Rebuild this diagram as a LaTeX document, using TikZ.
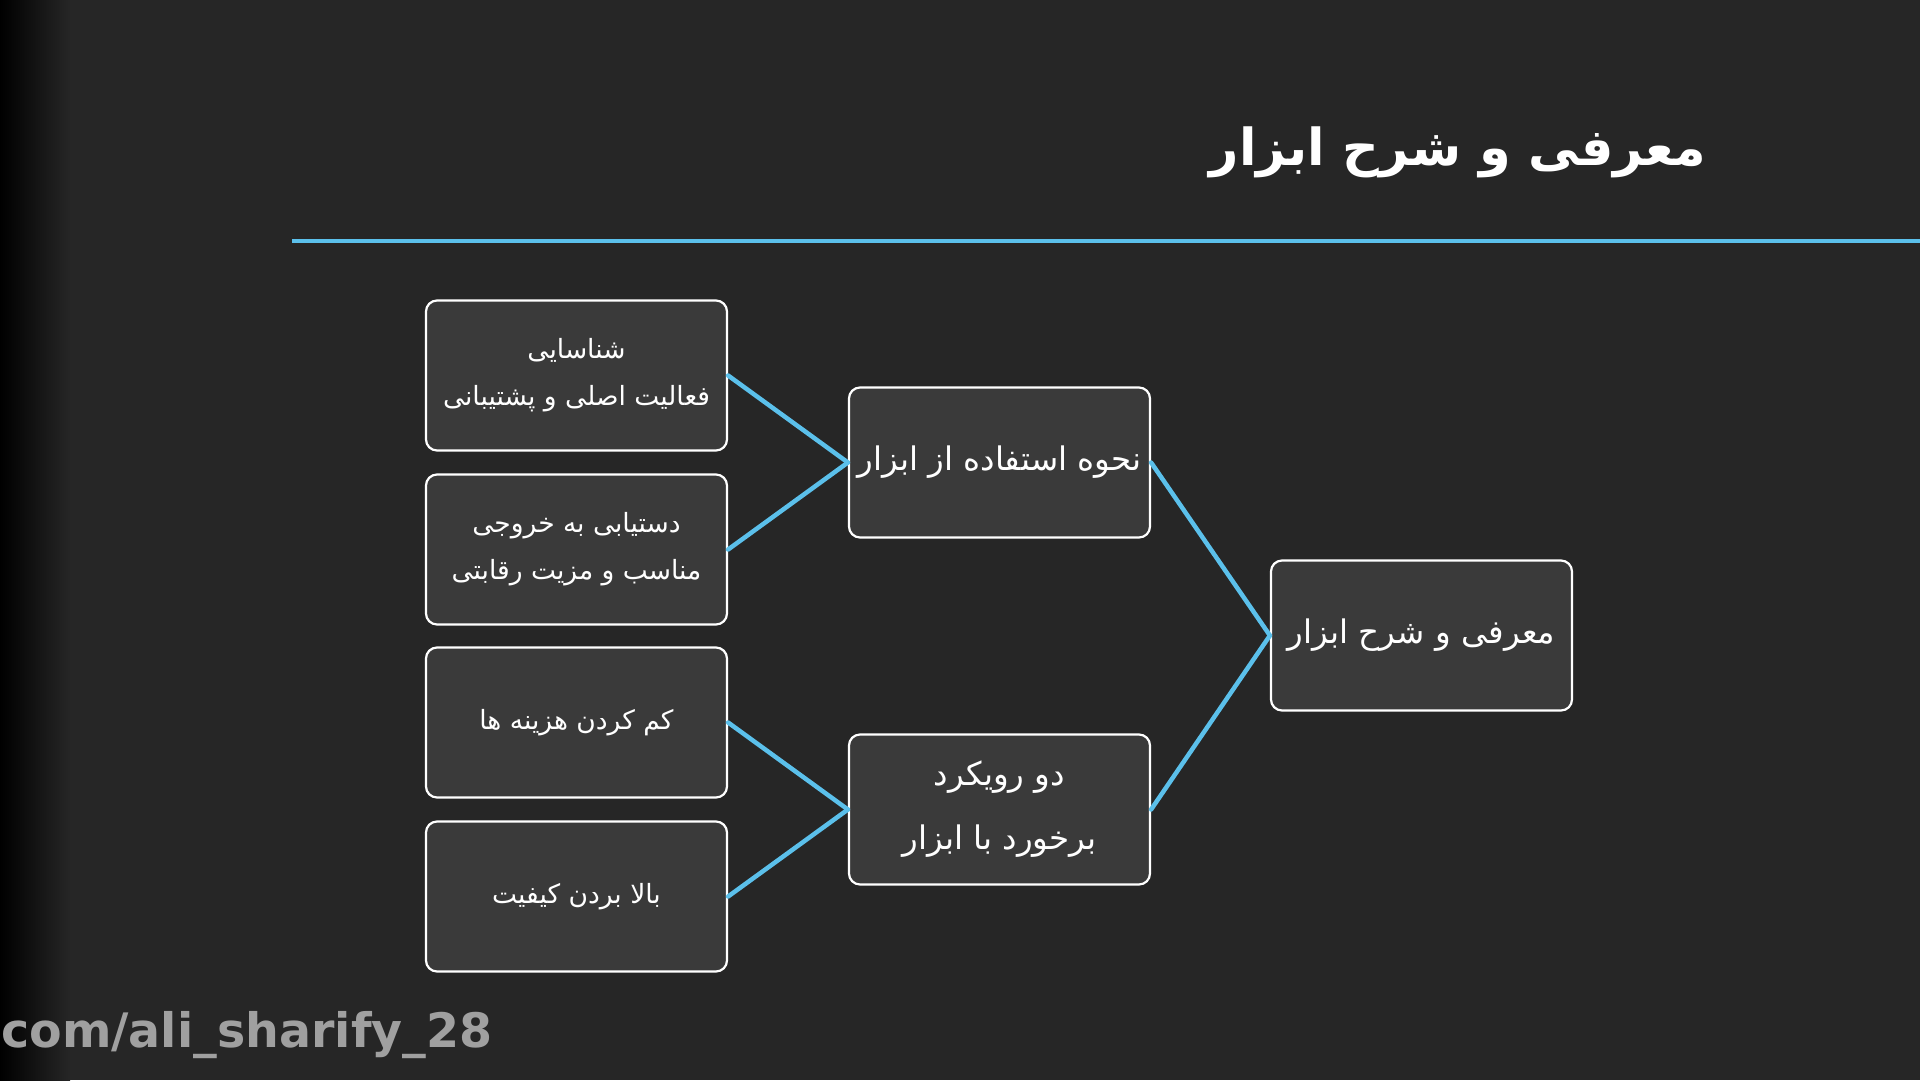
\documentclass[tikz,border=0pt]{standalone}
\usepackage{fontspec}
\TeXXeTstate=1
\newfontfamily\arabicfont[Script=Arabic]{DejaVu Sans}
\newfontfamily\wmfont{DejaVu Sans}
\definecolor{bgc}{HTML}{262626}
\definecolor{boxfill}{HTML}{3A3A3A}
\definecolor{lineblue}{HTML}{5BC0EB}
\definecolor{wmgray}{HTML}{A0A0A0}
\begin{document}
\begin{tikzpicture}[x=1pt,y=-1pt,
  card/.style={draw=white, line width=2.2pt, fill=boxfill, rounded corners=11pt,
    minimum width=301pt, minimum height=150pt, inner sep=0pt, align=center,
    text=white, font=\arabicfont\fontsize{26.5}{47}\selectfont},
  bigcard/.style={card, font=\arabicfont\fontsize{32.5}{64}\selectfont},
  link/.style={draw=lineblue, line width=4.5pt, line cap=round}]
\fill[bgc] (0,0) rectangle (1920,1080);
\shade[left color=black, right color=bgc] (0,0) rectangle (70,1080);
\useasboundingbox (0,0) rectangle (1920,1080);
% title
\node[anchor=east, text=white, inner sep=0pt, font=\arabicfont\bfseries\fontsize{51}{60}\selectfont] (title) at (1706,152) {\beginR معرفی و شرح ابزار\endR};
\coordinate (rulel) at (292,241);
\coordinate (ruler) at (1920,241);
\draw[draw=lineblue, line width=4pt] (rulel) -- (ruler);
% left column
\node[card] (a1) at (576.5,375.5) {\beginR شناسایی\endR\\\beginR فعالیت اصلی و پشتیبانی\endR};
\node[card] (a2) at (576.5,549.5) {\beginR دستیابی به خروجی\endR\\\beginR مناسب و مزیت رقابتی\endR};
\node[card] (a3) at (576.5,722.5) {\beginR کم کردن هزینه ها\endR};
\node[card] (a4) at (576.5,896.5) {\beginR بالا بردن کیفیت\endR};
% middle column
\node[bigcard] (b1) at (999.5,462.5) {\beginR نحوه استفاده از ابزار\endR};
\node[bigcard] (b2) at (999.5,809.5) {\beginR دو رویکرد\endR\\\beginR برخورد با ابزار\endR};
% right
\node[bigcard] (c1) at (1421.5,635.5) {\beginR معرفی و شرح ابزار\endR};
% connectors
\draw[link] (a1.east) -- (b1.west);
\draw[link] (a2.east) -- (b1.west);
\draw[link] (a3.east) -- (b2.west);
\draw[link] (a4.east) -- (b2.west);
\draw[link] (b1.east) -- (c1.west);
\draw[link] (b2.east) -- (c1.west);
% watermark
\node[anchor=base west, inner sep=0pt, text=wmgray, font=\wmfont\bfseries\fontsize{47.5}{50}\selectfont] (wm) at (1,1047) {com/ali\_sharify\_28};
\end{tikzpicture}
\end{document}
